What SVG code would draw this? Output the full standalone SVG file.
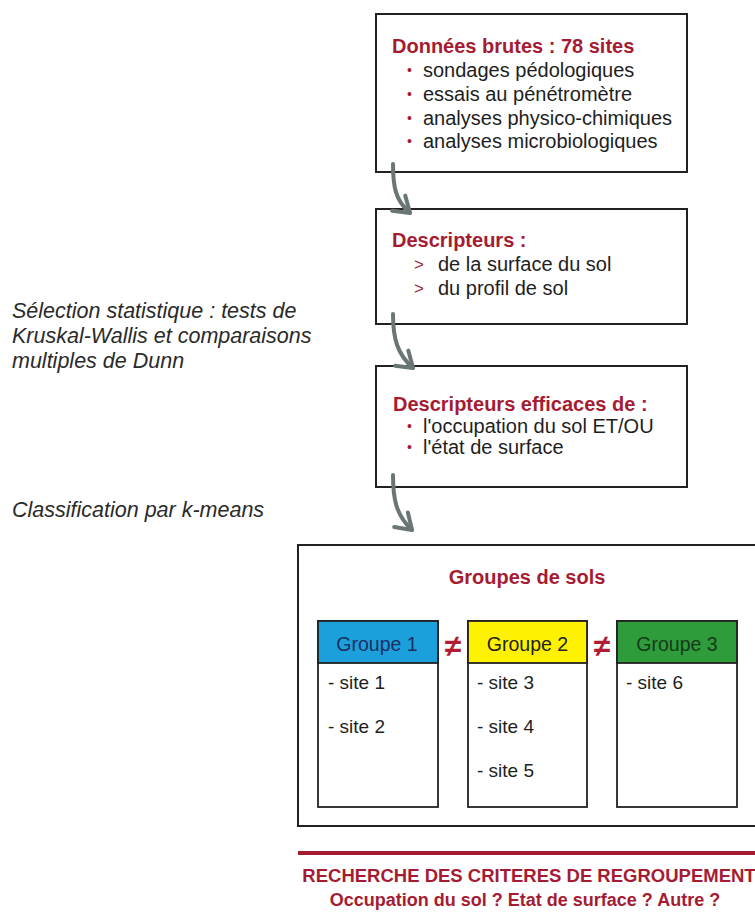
<svg xmlns="http://www.w3.org/2000/svg" width="755" height="912" viewBox="0 0 755 912">
<style>
  text { font-family: "Liberation Sans", Arial, sans-serif; }
  .box { fill: #ffffff; stroke: #222222; stroke-width: 2; }
  .title { fill: #a51c32; font-weight: bold; font-size: 20px; }
  .body { fill: #1e1e1e; font-size: 20px; }
  .mark { fill: #a51c32; font-size: 14px; }
  .gt { fill: #a51c32; font-size: 17px; }
  .side { fill: #2a2a2a; font-size: 21.5px; font-style: italic; }
  .grp { stroke: #222222; stroke-width: 1.8; }
  .gname { font-size: 19.5px; text-anchor: middle; }
  .site { fill: #1e1e1e; font-size: 19px; }
  .neq { fill: #b01c34; font-size: 30px; font-weight: bold; text-anchor: middle; }
  .conn { fill: none; stroke: #6a7676; stroke-width: 4; stroke-linecap: round; }
  .foot { fill: #a51c32; font-weight: bold; font-size: 18px; text-anchor: middle; }
</style>
<defs>
  <marker id="chev" markerUnits="userSpaceOnUse" markerWidth="30" markerHeight="30" viewBox="-18 -15 22 30" refX="0" refY="0" orient="auto">
    <path d="M-15,-10 L0,0 L-15,10" fill="none" stroke="#6a7676" stroke-width="4" stroke-linecap="round" stroke-linejoin="round"/>
  </marker>
</defs>
<rect width="755" height="912" fill="#ffffff"/>

<g id="side-labels">
  <text class="side" x="12" y="318">Sélection statistique : tests de</text>
  <text class="side" x="12" y="343">Kruskal-Wallis et comparaisons</text>
  <text class="side" x="12" y="368">multiples de Dunn</text>
  <text class="side" x="12" y="517">Classification par k-means</text>
</g>

<g id="node-donnees">
  <rect class="box" x="376" y="14" width="311" height="158"/>
  <text class="title" x="392" y="53">Données brutes : 78 sites</text>
  <text class="mark" x="407" y="75">•</text>
  <text class="body" x="423" y="77">sondages pédologiques</text>
  <text class="mark" x="407" y="99">•</text>
  <text class="body" x="423" y="101">essais au pénétromètre</text>
  <text class="mark" x="407" y="123">•</text>
  <text class="body" x="423" y="125">analyses physico-chimiques</text>
  <text class="mark" x="407" y="146">•</text>
  <text class="body" x="423" y="148">analyses microbiologiques</text>
</g>

<g id="node-descripteurs">
  <rect class="box" x="376" y="209" width="311" height="115"/>
  <text class="title" x="392" y="247">Descripteurs :</text>
  <text class="gt" x="414" y="270">&gt;</text>
  <text class="body" x="438" y="271">de la surface du sol</text>
  <text class="gt" x="414" y="294">&gt;</text>
  <text class="body" x="438" y="295">du profil de sol</text>
</g>

<g id="node-efficaces">
  <rect class="box" x="376" y="366" width="311" height="121"/>
  <text class="title" x="393" y="411">Descripteurs efficaces de :</text>
  <text class="mark" x="407" y="431">•</text>
  <text class="body" x="423" y="433">l'occupation du sol ET/OU</text>
  <text class="mark" x="407" y="452">•</text>
  <text class="body" x="423" y="454">l'état de surface</text>
</g>

<g id="node-groupes">
  <rect class="box" x="298" y="545" width="470" height="281"/>
  <text class="title" x="527" y="584" text-anchor="middle">Groupes de sols</text>
</g>

<g id="node-groupe1">
  <rect class="grp" x="318" y="621" width="120" height="186" fill="#ffffff"/>
  <rect class="grp" x="318" y="621" width="120" height="42" fill="#1ba0dc"/>
  <text class="gname" x="377" y="651" fill="#1b2e62">Groupe 1</text>
  <text class="site" x="328" y="689">- site 1</text>
  <text class="site" x="328" y="733">- site 2</text>
</g>

<g id="node-groupe2">
  <rect class="grp" x="468" y="621" width="119" height="186" fill="#ffffff"/>
  <rect class="grp" x="468" y="621" width="119" height="42" fill="#fff200"/>
  <text class="gname" x="527.5" y="651" fill="#222222">Groupe 2</text>
  <text class="site" x="477" y="689">- site 3</text>
  <text class="site" x="477" y="733">- site 4</text>
  <text class="site" x="477" y="777">- site 5</text>
</g>

<g id="node-groupe3">
  <rect class="grp" x="617" y="621" width="120" height="186" fill="#ffffff"/>
  <rect class="grp" x="617" y="621" width="120" height="42" fill="#2e9c3a"/>
  <text class="gname" x="677" y="651" fill="#173a1a">Groupe 3</text>
  <text class="site" x="626" y="689">- site 6</text>
</g>

<g id="neq-signs">
  <text class="neq" x="453" y="656">≠</text>
  <text class="neq" x="602" y="656">≠</text>
</g>

<g id="connectors">
  <path class="conn" d="M393,164 C393,186 395,200 410,213" marker-end="url(#chev)"/>
  <path class="conn" d="M393,314 C393,338 397,354 413,368" marker-end="url(#chev)"/>
  <path class="conn" d="M393,475 C393,499 396,515 412,530" marker-end="url(#chev)"/>
</g>

<g id="node-criteres">
  <rect x="298" y="851" width="470" height="4" fill="#a51c32"/>
  <text class="foot" x="529" y="882" style="font-size:18.5px">RECHERCHE DES CRITERES DE REGROUPEMENT</text>
  <text class="foot" x="525" y="906">Occupation du sol ? Etat de surface ? Autre ?</text>
</g>
</svg>
